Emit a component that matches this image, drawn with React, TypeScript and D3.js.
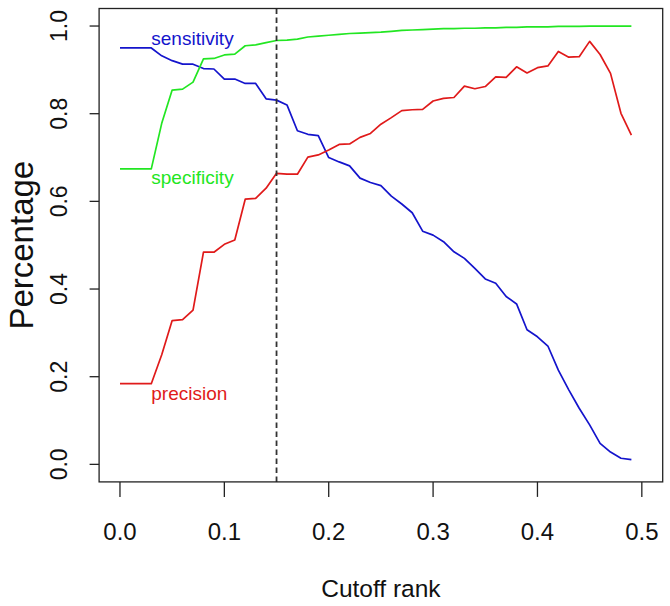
import React from "react";
import * as d3 from "d3";

const cutoff = [
  0.0, 0.01, 0.02, 0.03, 0.04, 0.05, 0.06, 0.07, 0.08, 0.09,
  0.1, 0.11, 0.12, 0.13, 0.14, 0.15, 0.16, 0.17, 0.18, 0.19,
  0.2, 0.21, 0.22, 0.23, 0.24, 0.25, 0.26, 0.27, 0.28, 0.29,
  0.3, 0.31, 0.32, 0.33, 0.34, 0.35, 0.36, 0.37, 0.38, 0.39,
  0.4, 0.41, 0.42, 0.43, 0.44, 0.45, 0.46, 0.47, 0.48, 0.49,
];

const sensitivity = [
  0.95, 0.95, 0.95, 0.95, 0.932, 0.921, 0.913, 0.913, 0.903, 0.902,
  0.879, 0.879, 0.869, 0.869, 0.834, 0.831, 0.82, 0.761, 0.753, 0.75,
  0.7, 0.69, 0.681, 0.653, 0.643, 0.636, 0.612, 0.594, 0.574, 0.532,
  0.523, 0.508, 0.485, 0.47, 0.447, 0.423, 0.413, 0.383, 0.366, 0.307,
  0.291, 0.27, 0.215, 0.17, 0.128, 0.09, 0.048, 0.028, 0.014, 0.011,
];

const specificity = [
  0.674, 0.674, 0.674, 0.674, 0.778, 0.854, 0.856, 0.872, 0.925, 0.926,
  0.934, 0.936, 0.955, 0.957, 0.962, 0.967, 0.968, 0.97, 0.975, 0.977,
  0.979, 0.981, 0.983, 0.984, 0.985, 0.986, 0.988, 0.99, 0.991, 0.992,
  0.993, 0.994, 0.994, 0.995, 0.995, 0.996, 0.996, 0.997, 0.997, 0.998,
  0.998, 0.998, 0.999, 0.999, 0.999, 1.0, 1.0, 1.0, 1.0, 1.0,
];

const precision = [
  0.184, 0.184, 0.184, 0.184, 0.25, 0.328, 0.33, 0.352, 0.484, 0.484,
  0.502, 0.512, 0.605, 0.607, 0.63, 0.664, 0.662, 0.662, 0.701, 0.706,
  0.717, 0.73, 0.731, 0.746, 0.755, 0.776, 0.791, 0.807, 0.809, 0.81,
  0.829, 0.835, 0.837, 0.863, 0.857, 0.862, 0.884, 0.883, 0.907, 0.893,
  0.905, 0.909, 0.942, 0.929, 0.93, 0.965, 0.935, 0.892, 0.801, 0.751,
];

const xTicks = [0, 0.1, 0.2, 0.3, 0.4, 0.5];
const yTicks = [0, 0.2, 0.4, 0.6, 0.8, 1.0];
const cutoffLine = 0.15;

const seriesNames = ["sensitivity", "specificity", "precision"];
const seriesColors = ["#1414cc", "#22e622", "#e01a1a"];
const labelX = [0.03, 0.03, 0.03];
const labelY = [0.957, 0.64, 0.147];

const W = 670;
const H = 606;
const left = 99.1;
const right = 662.7;
const top = 8.5;
const bottom = 481.9;

export default function App() {
  const x = d3.scaleLinear().domain([-0.02, 0.52]).range([left, right]);
  const y = d3.scaleLinear().domain([-0.04, 1.04]).range([bottom, top]);
  const allSeries = [sensitivity, specificity, precision];
  const line = d3
    .line<number>()
    .x((_, i) => x(cutoff[i]))
    .y((d) => y(d));
  const font = "'Liberation Sans', Arial, Helvetica, sans-serif";

  return (
    <div style={{ position: "absolute", left: 0, top: 0 }}>
      <svg width={W} height={H} style={{ display: "block", background: "#fff" }}>
        <rect x={0} y={0} width={W} height={H} fill="#fff" />
        {allSeries.map((s, k) => (
          <path
            key={k}
            d={line(s) || ""}
            fill="none"
            stroke={seriesColors[k]}
            strokeWidth={1.7}
            strokeLinejoin="round"
          />
        ))}
        <line
          x1={x(cutoffLine)}
          x2={x(cutoffLine)}
          y1={bottom}
          y2={top}
          stroke="#333"
          strokeWidth={1.8}
          strokeDasharray="5.5,3.5"
        />
        {seriesNames.map((n, k) => (
          <text
            key={n}
            x={x(labelX[k])}
            y={y(labelY[k])}
            fill={seriesColors[k]}
            fontFamily={font}
            fontSize={19}
          >
            {n}
          </text>
        ))}
        <rect
          x={left}
          y={top}
          width={right - left}
          height={bottom - top}
          fill="none"
          stroke="#222"
          strokeWidth={1.3}
        />
        {xTicks.map((t) => (
          <g key={"x" + t}>
            <line x1={x(t)} x2={x(t)} y1={bottom} y2={bottom + 15} stroke="#222" strokeWidth={1.3} />
            <text
              x={x(t)}
              y={540}
              textAnchor="middle"
              fontFamily={font}
              fontSize={24}
              fill="#111"
            >
              {t.toFixed(1)}
            </text>
          </g>
        ))}
        {yTicks.map((t) => (
          <g key={"y" + t}>
            <line x1={left - 9.5} x2={left} y1={y(t)} y2={y(t)} stroke="#222" strokeWidth={1.3} />
            <text
              transform={`translate(67,${y(t)}) rotate(-90)`}
              textAnchor="middle"
              fontFamily={font}
              fontSize={23}
              fill="#111"
            >
              {t.toFixed(1)}
            </text>
          </g>
        ))}
        <text
          x={(left + right) / 2}
          y={597}
          textAnchor="middle"
          fontFamily={font}
          fontSize={24.5}
          fill="#111"
        >
          Cutoff rank
        </text>
        <text
          transform={`translate(33,${(top + bottom) / 2}) rotate(-90)`}
          textAnchor="middle"
          fontFamily={font}
          fontSize={33}
          fill="#111"
        >
          Percentage
        </text>
      </svg>
    </div>
  );
}
